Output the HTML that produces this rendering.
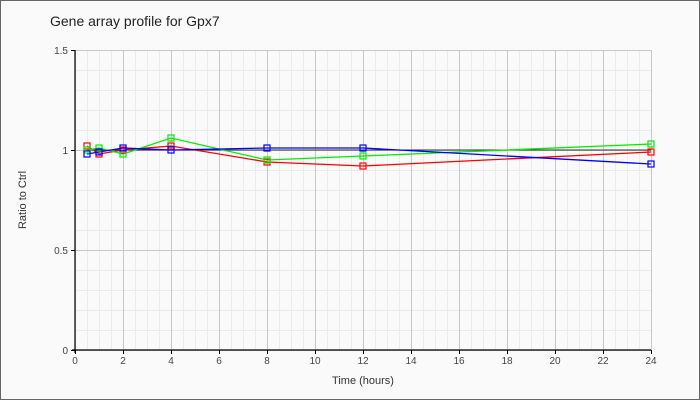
<!DOCTYPE html>
<html><head><meta charset="utf-8"><style>
html,body{margin:0;padding:0;background:#fafafa;}
svg{display:block;font-family:"Liberation Sans",sans-serif;}
</style></head><body>
<svg id="s" width="700" height="400" xmlns="http://www.w3.org/2000/svg">
<rect x="0.5" y="0.5" width="699" height="399" fill="#fafafa" stroke="#666"/>
<g id="minor" stroke="#ebebeb" stroke-width="1"></g>
<g id="major" stroke="#c8c8c8" stroke-width="1"></g>
<text x="50" y="26" font-size="14" fill="#222">Gene array profile for Gpx7</text>
<g id="lab" font-size="10" fill="#444"></g>
<text x="363" y="384" font-size="11" fill="#333" text-anchor="middle">Time (hours)</text>
<text transform="translate(26,200) rotate(-90)" font-size="11" fill="#333" text-anchor="middle">Ratio to Ctrl</text>
<g fill="none" stroke-width="1.3">
<polyline stroke="#333" stroke-width="1" points="87,150 363,150 651,150"/>
<polyline stroke="#f00" points="87,146 99,154 123,150 171,146 267,162 363,166 651,152"/>
<polyline stroke="#0e0" points="87,150 99,148 123,154 171,138 267,160 363,156 651,144"/>
<polyline stroke="#00f" points="87,154 99,152 123,148 171,150 267,148 363,148 651,164"/>
</g>
<g id="mk" fill="none" stroke-width="1.2"></g>
<line x1="75" y1="50" x2="75" y2="353" stroke="#000" stroke-width="1.2"/>
<line x1="72" y1="350" x2="651" y2="350" stroke="#000" stroke-width="1.2"/>
</svg>
<script>
var NS="http://www.w3.org/2000/svg";
function el(p,t,a){var e=document.createElementNS(NS,t);for(var k in a)e.setAttribute(k,a[k]);document.getElementById(p).appendChild(e);return e;}
for(var i=0;i<=48;i++){var x=75+i*12+0.5;el(i%4==0?"major":"minor","line",{x1:x,y1:50,x2:x,y2:350});}
for(var j=0;j<=15;j++){var y=50+j*20+0.5;el(j%5==0?"major":"minor","line",{x1:75,y1:y,x2:651,y2:y});}
for(var h=0;h<=24;h+=2){var x=75+h*24;el("major","line",{x1:x+0.5,y1:350,x2:x+0.5,y2:354,stroke:"#000"});var t=el("lab","text",{x:x,y:364,"text-anchor":"middle"});t.textContent=h;}
[["1.5",50],["1",150],["0.5",250],["0",350]].forEach(function(v){el("major","line",{x1:71,y1:v[1]+0.5,x2:75,y2:v[1]+0.5,stroke:"#000"});var t=el("lab","text",{x:68,y:v[1]+4,"text-anchor":"end"});t.textContent=v[0];});
var xs=[87,99,123,171,267,363,651];
var S={"#f00":[146,154,150,146,162,166,152],"#0e0":[150,148,154,138,160,156,144],"#00f":[154,152,148,150,148,148,164]};
for(var c in S)S[c].forEach(function(y,i){el("mk","rect",{x:xs[i]-3,y:y-3,width:6,height:6,stroke:c});});
</script>
</body></html>
